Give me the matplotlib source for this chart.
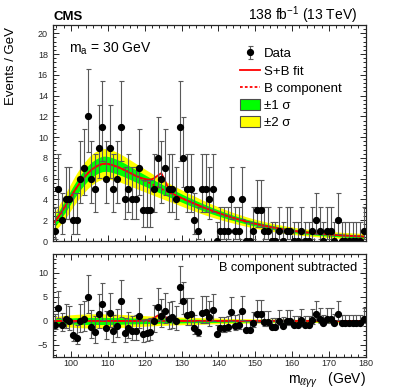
import numpy as np
import matplotlib
matplotlib.use("Agg")
import matplotlib.pyplot as plt
from matplotlib.patches import Patch
from matplotlib.lines import Line2D
from matplotlib.ticker import MultipleLocator

plt.rcParams['font.family'] = ['Liberation Sans', 'DejaVu Sans']
plt.rcParams['mathtext.fontset'] = 'custom'
plt.rcParams['mathtext.rm'] = 'Liberation Sans'
plt.rcParams['mathtext.it'] = 'Liberation Sans:italic'
plt.rcParams['mathtext.bf'] = 'Liberation Sans:bold'

# bin centres, 1 GeV bins from 95 to 180
mass = np.arange(95.5, 180, 1.0)

# observed events per bin
data = [1, 5, 2, 4, 4, 2, 2, 6, 7, 12,
        6, 5, 9, 11, 6, 9, 5, 6, 11, 4,
        5, 4, 4, 7, 3, 3, 3, 5, 8, 6,
        7, 5, 5, 4, 11, 8, 5, 5, 2, 1,
        5, 5, 4, 5, 0, 1, 1, 1, 4, 1,
        1, 4, 0, 0, 1, 3, 3, 1, 1, 0,
        0, 1, 0, 1, 1, 0, 0, 1, 0, 0,
        1, 2, 1, 0, 1, 1, 0, 2, 0, 0,
        0, 0, 0, 0, 1]

# data minus B component (lower panel)
resid = [-0.83, 2.8, -0.9, 0.42, -0.07, -2.9, -3.5, 0.0, 0.42, 5.07,
         -1.2, -2.4, 1.46, 3.5, -1.46, 1.7, -2.15, -1.04, 4.17, -2.57,
         -1.46, -2.15, -2.0, 1.04, -2.7, -2.6, -2.4, -0.07, 3.0, 1.04,
         2.1, 0.5, 0.76, 0.0, 7.0, 4.2, 1.3, 1.4, -1.5, -2.3,
         1.74, 1.8, 0.9, 2.2, -2.7, -1.5, -1.5, -1.3, 1.8, -1.0,
         -0.9, 2.1, -1.9, -1.8, -0.5, 1.5, 1.5, -0.3, -0.3, -1.2,
         -1.2, -0.07, -1.0, 0.0, 0.0, -0.9, -0.9, 0.2, -0.85, -0.85,
         0.2, 1.46, 0.42, -0.5, 0.5, 0.5, -0.35, 1.46, -0.5, -0.5,
         -0.5, -0.5, -0.5, -0.5, 0.5]

# background component of the fit
bkg = [1.8, 2.3, 2.85, 3.4, 4.0, 4.6, 5.15, 5.65, 6.1, 6.5,
       6.85, 7.1, 7.3, 7.42, 7.45, 7.38, 7.28, 7.15, 7.0, 6.83,
       6.65, 6.47, 6.28, 6.1, 5.92, 5.74, 5.56, 5.38, 5.2, 5.03,
       4.86, 4.7, 4.54, 4.38, 4.22, 4.06, 3.9, 3.75, 3.6, 3.45,
       3.3, 3.16, 3.02, 2.89, 2.76, 2.64, 2.52, 2.4, 2.29, 2.18,
       2.08, 1.98, 1.88, 1.79, 1.7, 1.62, 1.54, 1.46, 1.39, 1.32,
       1.25, 1.19, 1.13, 1.07, 1.02, 0.97, 0.92, 0.88, 0.84, 0.8,
       0.76, 0.73, 0.7, 0.67, 0.64, 0.61, 0.59, 0.56, 0.54, 0.52,
       0.5, 0.48, 0.46, 0.45, 0.43]

# signal component (S+B minus B)
sig = [0] * 23 + [0.05, 0.1, 0.2, 0.35, 0.65, 1.1, 1.5, 0.95, 0.3, 0.05] + [0] * 52

# band half widths
sig1 = [0.45, 0.5, 0.55, 0.6, 0.63, 0.66, 0.69, 0.71, 0.72, 0.73,
        0.74, 0.74, 0.74, 0.74, 0.73, 0.72, 0.71, 0.7, 0.68, 0.66,
        0.64, 0.62, 0.6, 0.58, 0.56, 0.54, 0.52, 0.5, 0.48, 0.46,
        0.45, 0.44, 0.42, 0.41, 0.4, 0.39, 0.38, 0.37, 0.36, 0.35,
        0.34, 0.33, 0.32, 0.31, 0.3, 0.29, 0.28, 0.27, 0.26, 0.25,
        0.25, 0.24, 0.23, 0.23, 0.22, 0.22, 0.21, 0.21, 0.2, 0.2,
        0.19, 0.19, 0.19, 0.18, 0.18, 0.18, 0.17, 0.17, 0.17, 0.17,
        0.16, 0.16, 0.16, 0.16, 0.16, 0.15, 0.15, 0.15, 0.15, 0.15,
        0.15, 0.15, 0.15, 0.15, 0.15]
sig2 = [0.9, 1.0, 1.1, 1.2, 1.26, 1.32, 1.38, 1.42, 1.44, 1.46,
        1.48, 1.48, 1.48, 1.47, 1.46, 1.44, 1.42, 1.39, 1.36, 1.32,
        1.28, 1.24, 1.2, 1.16, 1.12, 1.08, 1.04, 1.0, 0.96, 0.93,
        0.9, 0.87, 0.84, 0.82, 0.8, 0.78, 0.76, 0.74, 0.72, 0.7,
        0.68, 0.66, 0.64, 0.62, 0.6, 0.58, 0.56, 0.54, 0.52, 0.5,
        0.49, 0.48, 0.46, 0.45, 0.44, 0.43, 0.42, 0.41, 0.4, 0.39,
        0.38, 0.38, 0.37, 0.36, 0.36, 0.35, 0.34, 0.34, 0.33, 0.33,
        0.32, 0.32, 0.32, 0.31, 0.31, 0.31, 0.3, 0.3, 0.3, 0.3,
        0.3, 0.3, 0.3, 0.3, 0.3]

# Garwood (68%) Poisson intervals for n = 0..12
pois_lo = [0, 0.827, 1.292, 1.633, 1.914, 2.160, 2.380, 2.581, 2.768, 2.943, 3.109, 3.266, 3.415]
pois_hi = [1.841, 2.300, 2.638, 2.918, 3.163, 3.382, 3.584, 3.770, 3.945, 4.110, 4.266, 4.416, 4.559]

data = np.array(data)
resid = np.array(resid)
bkg = np.array(bkg)
sig = np.array(sig)
sig1 = np.array(sig1)
sig2 = np.array(sig2)
err_lo = np.array([pois_lo[n] for n in data])
err_hi = np.array([pois_hi[n] for n in data])

fig = plt.figure(figsize=(4.07, 3.91), dpi=100)
ax1 = fig.add_axes([0.1295, 0.3836, 0.769, 0.5524])
ax2 = fig.add_axes([0.1295, 0.0877, 0.769, 0.2627])

err_kw = dict(fmt='o', mfc='k', mec='k', ecolor='0.35', ms=4.2,
              elinewidth=0.8, capsize=1.8, capthick=0.8)

# upper panel
ax1.fill_between(mass, bkg - sig2, bkg + sig2, color='#ffff00', lw=0)
ax1.fill_between(mass, bkg - sig1, bkg + sig1, color='#00ff00', lw=0)
ax1.plot(mass, bkg, color='red', ls=(0, (1.5, 1.2)), lw=1.3)
ax1.plot(mass, bkg + sig, color='red', lw=1.3)
eb = ax1.errorbar(mass, data, yerr=[err_lo, err_hi], **err_kw)
ax1.set_xlim(95, 180)
ax1.set_ylim(0, 20.8)

# lower panel
ax2.fill_between(mass, -sig2, sig2, color='#ffff00', lw=0)
ax2.fill_between(mass, -sig1, sig1, color='#00ff00', lw=0)
ax2.plot(mass, np.zeros_like(mass), color='red', ls=(0, (1.5, 1.2)), lw=1.3)
ax2.plot(mass, sig, color='red', lw=1.3)
ax2.errorbar(mass, resid, yerr=[err_lo, err_hi], **err_kw)
ax2.set_xlim(95, 180)
ax2.set_ylim(-7.45, 13.95)

for ax in (ax1, ax2):
    ax.xaxis.set_major_locator(MultipleLocator(10))
    ax.xaxis.set_minor_locator(MultipleLocator(2))
    ax.tick_params(which='both', direction='in', top=True, right=True,
                   labelsize=6.5, width=0.7, colors='0.15')
    ax.tick_params(which='major', length=4.5)
    ax.tick_params(which='minor', length=2.2)
    for s in ax.spines.values():
        s.set_linewidth(0.9)
        s.set_color('0.15')
ax1.yaxis.set_major_locator(MultipleLocator(2))
ax1.yaxis.set_minor_locator(MultipleLocator(0.4))
ax1.tick_params(labelbottom=False, pad=3.5)
ax2.yaxis.set_major_locator(MultipleLocator(5))
ax2.yaxis.set_minor_locator(MultipleLocator(1))
ax2.tick_params(axis='x', pad=2)
ax2.tick_params(axis='y', pad=3.5)

handles = [eb,
           Line2D([], [], color='red', lw=1.3),
           Line2D([], [], color='red', lw=1.3, ls=(0, (1.5, 1.2))),
           Patch(facecolor='#00ff00', edgecolor='0.3', lw=0.8),
           Patch(facecolor='#ffff00', edgecolor='0.3', lw=0.8)]
labels = ['Data', 'S+B fit', 'B component', '±1 σ', '±2 σ']
ax1.legend(handles, labels, loc='upper left', bbox_to_anchor=(0.598, 0.897),
           frameon=False, fontsize=9.5, borderpad=0, borderaxespad=0,
           handlelength=1.5, handleheight=0.95, handletextpad=0.3,
           labelspacing=0.3)

fig.text(53 / 407, 1 - 19.5 / 391, 'CMS', fontsize=9.5, fontweight='bold',
         ha='left', va='baseline')
fig.text(357 / 407, 1 - 20 / 391, '138 fb$^{-1}$ (13 TeV)', fontsize=10,
         ha='right', va='baseline')
fig.text(69 / 407, 1 - 53 / 391, 'm$_\\mathrm{a}$ = 30 GeV', fontsize=10,
         ha='left', va='baseline')
fig.text(357 / 407, 1 - 270.5 / 391, 'B component subtracted', fontsize=9.2,
         ha='right', va='baseline')
fig.text(11.5 / 407, 1 - 27 / 391, 'Events / GeV', fontsize=9.5, rotation=90,
         ha='center', va='top')
fig.text(365.5 / 407, 1 - 384 / 391, 'm$_{\\ell\\ell\\gamma\\gamma}$   (GeV)',
         fontsize=10, ha='right', va='baseline')

fig.savefig('out.png', dpi=100)
